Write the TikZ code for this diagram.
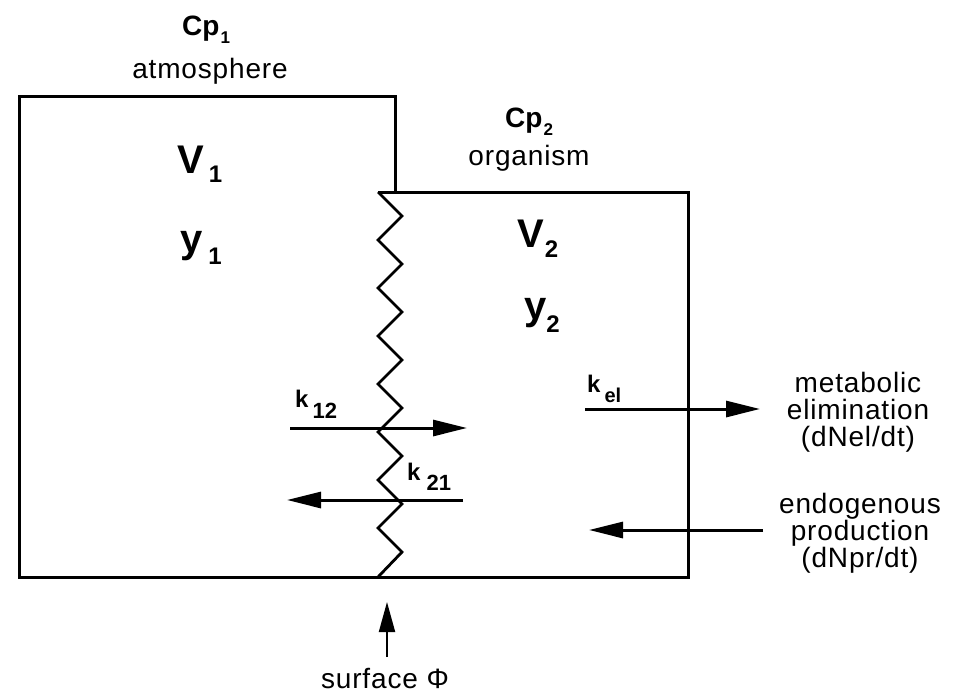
\documentclass[tikz,border=0pt]{standalone}
\usepackage{fontspec}
\setmainfont{Liberation Sans}
\newfontfamily\lblfont[LetterSpace=3]{Liberation Sans}
\usetikzlibrary{arrows.meta}
\newcommand\symsub[6]{{\fontsize{#1}{#1}\selectfont #2}\hspace{#5}\raisebox{-#4}{\fontsize{#3}{#3}\selectfont #6}}
\begin{document}
\begin{tikzpicture}[x=1pt,y=-1pt,
  wall/.style={line width=3pt, line join=miter},
  zig/.style={line width=2.8pt, line join=miter},
  flow/.style={line width=3pt,-{Triangle[length=34pt,width=16pt]}},
  thin flow/.style={line width=2pt,-{Triangle[length=30pt,width=16pt]}},
  txt/.style={inner sep=0pt,font=\fontsize{28}{27}\selectfont\lblfont, align=center},
  sym/.style={inner sep=0pt,anchor=base west, font=\bfseries}
]
\useasboundingbox (0,0) rectangle (953,697);

% compartments
\draw[wall] (395,192) -- (395,96) -- (19,96) -- (19,577) -- (688,577) -- (688,192) -- (378,192);
% membrane (zigzag)
\draw[zig] (378,192) -- (402,216) -- (378,240) -- (402,264) -- (378,288) -- (402,312)
  -- (378,336) -- (402,360) -- (378,384) -- (402,408) -- (378,432) -- (402,456)
  -- (378,480) -- (402,504) -- (378,528) -- (402,552) -- (378,577);

% labels
\node[sym] (cp1) at (182,35) {\symsub{28pt}{Cp}{17pt}{8pt}{1pt}{1}};
\node[txt, anchor=base] (atm) at (210,78) {atmosphere};
\node[sym] (v1) at (177,173) {\symsub{40pt}{V}{24pt}{9pt}{5pt}{1}};
\node[sym] (y1) at (180,252) {\symsub{40pt}{y}{24pt}{12pt}{6pt}{1}};

\node[sym] (cp2) at (505,127) {\symsub{28pt}{Cp}{17pt}{8pt}{1pt}{2}};
\node[txt, anchor=base] (org) at (529,165) {organism};
\node[sym] (v2) at (517,247) {\symsub{40pt}{V}{24pt}{10pt}{1pt}{2}};
\node[sym] (y2) at (524,319) {\symsub{40pt}{y}{24pt}{13pt}{0pt}{2}};

\node[sym] (k12) at (295,407) {\symsub{24pt}{k}{22pt}{11pt}{4pt}{12}};
\node[sym] (k21) at (407,480) {\symsub{24pt}{k}{22pt}{10pt}{6pt}{21}};
\node[sym] (kel) at (587,392) {\symsub{24pt}{k}{20pt}{10pt}{4pt}{el}};

\node[txt, anchor=north] (elim) at (858,372) {metabolic\\elimination\\(dNel/dt)};
\node[txt, anchor=north] (prod) at (860,493) {endogenous\\production\\(dNpr/dt)};
\node[txt, anchor=base] (surf) at (385,688) {surface Φ};

% flows
\coordinate (k12s) at (290,428); \coordinate (k12e) at (467,428);
\coordinate (k21s) at (463,500); \coordinate (k21e) at (287,500);
\coordinate (kels) at (585,409); \coordinate (kele) at (760,409);
\coordinate (prods) at (763,530); \coordinate (prode) at (589,530);
\coordinate (surfs) at (387,657); \coordinate (surfe) at (387,602);
\draw[flow] (k12s) -- (k12e);
\draw[flow] (k21s) -- (k21e);
\draw[flow] (kels) -- (kele);
\draw[flow] (prods) -- (prode);
\draw[thin flow] (surfs) -- (surfe);
\end{tikzpicture}
\end{document}
